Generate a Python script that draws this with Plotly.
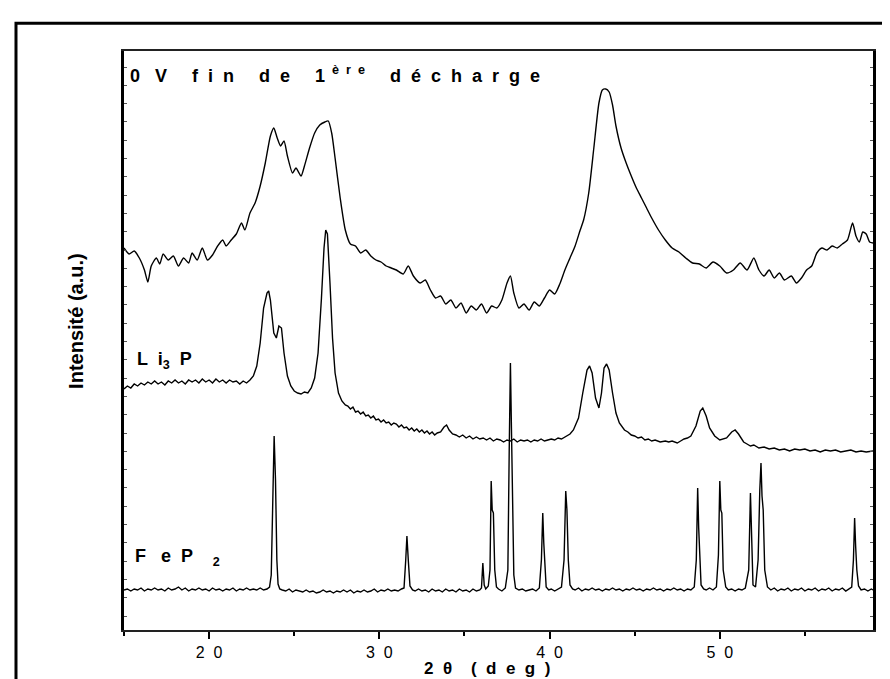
import plotly.graph_objects as go

# ---- Data (2theta in degrees, intensity in arbitrary units) ----
dis_2theta = [15.0, 15.3, 15.6, 15.9, 16.2, 16.4, 16.6, 16.9, 17.1, 17.3, 17.6, 17.9, 18.2, 18.5, 18.8, 19.0, 19.3, 19.6, 19.9,
              20.2, 20.5, 20.8, 21.0, 21.3, 21.6, 21.9, 22.1, 22.4, 22.7, 23.0, 23.3, 23.6, 23.8, 24.0, 24.2, 24.4, 24.6, 24.9,
              25.1, 25.4, 25.6, 25.9, 26.2, 26.5, 26.8, 27.0, 27.2, 27.4, 27.7, 28.0, 28.3, 28.6, 28.9, 29.2, 29.5, 29.8, 30.1,
              30.4, 30.7, 31.0, 31.4, 31.7, 32.0, 32.4, 32.7, 33.0, 33.3, 33.6, 33.9, 34.2, 34.5, 34.8, 35.1, 35.4, 35.7, 36.0,
              36.3, 36.6, 36.9, 37.2, 37.5, 37.7, 37.9, 38.2, 38.5, 38.8, 39.1, 39.4, 39.7, 40.0, 40.3, 40.6, 40.9, 41.2, 41.5,
              41.8, 42.0, 42.3, 42.6, 42.9, 43.1, 43.3, 43.5, 43.7, 43.9, 44.2, 44.5, 44.8, 45.1, 45.4, 45.7, 46.0, 46.4, 46.8,
              47.2, 47.6, 48.0, 48.4, 48.8, 49.2, 49.6, 50.0, 50.4, 50.8, 51.2, 51.6, 52.0, 52.3, 52.6, 52.9, 53.2, 53.5, 53.8,
              54.2, 54.5, 54.8, 55.1, 55.4, 55.7, 56.0, 56.3, 56.6, 56.9, 57.2, 57.5, 57.8, 58.0, 58.2, 58.4, 58.6, 58.8, 59.0]
dis_int = [382, 376, 379, 372, 360, 348, 364, 372, 366, 376, 370, 374, 364, 372, 367, 377, 370, 382, 370,
           375, 384, 390, 384, 390, 396, 407, 400, 417, 427, 444, 467, 494, 502, 492, 484, 489, 474, 457,
           462, 454, 464, 482, 497, 505, 508, 509, 497, 472, 432, 400, 386, 384, 377, 380, 374, 370, 368,
           364, 362, 360, 356, 364, 354, 347, 350, 340, 332, 334, 326, 330, 322, 327, 317, 324, 320, 326,
           317, 324, 322, 330, 347, 354, 337, 322, 326, 320, 328, 324, 332, 340, 336, 346, 360, 372, 384,
           400, 410, 437, 482, 527, 540, 541, 538, 525, 504, 482, 467, 454, 442, 432, 422, 412, 400, 390,
           382, 378, 372, 367, 366, 362, 368, 364, 357, 360, 367, 360, 372, 360, 354, 360, 352, 357, 350,
           354, 347, 352, 360, 364, 377, 382, 380, 384, 382, 386, 390, 407, 394, 388, 398, 396, 388, 387]

li3p_2theta = [15.0, 15.2, 15.4, 15.6, 15.8, 16.0, 16.2, 16.4, 16.6, 16.8, 17.0, 17.2, 17.4, 17.6, 17.8, 18.0, 18.2, 18.4,
               18.6, 18.8, 19.0, 19.2, 19.4, 19.6, 19.8, 20.0, 20.2, 20.4, 20.6, 20.8, 21.0, 21.2, 21.4, 21.6, 21.8, 22.0,
               22.2, 22.4, 22.6, 22.8, 23.0, 23.2, 23.4, 23.5, 23.6, 23.8, 23.95, 24.1, 24.25, 24.4, 24.6, 24.8, 25.0,
               25.2, 25.4, 25.6, 25.8, 26.0, 26.2, 26.4, 26.6, 26.75, 26.85, 26.95, 27.1, 27.25, 27.4, 27.6, 27.8, 28.0,
               28.15, 28.3, 28.45, 28.6, 28.75, 28.9, 29.05, 29.2, 29.35, 29.5, 29.65, 29.8, 29.95, 30.1, 30.25, 30.4,
               30.55, 30.7, 30.85, 31.0, 31.15, 31.3, 31.45, 31.6, 31.75, 31.9, 32.05, 32.2, 32.35, 32.5, 32.65, 32.8,
               32.95, 33.1, 33.25, 33.4, 33.6, 33.8, 33.95, 34.1, 34.3, 34.5, 34.7, 34.9, 35.1, 35.3, 35.5, 35.7, 35.9,
               36.1, 36.3, 36.5, 36.7, 36.9, 37.1, 37.3, 37.5, 37.7, 37.9, 38.1, 38.3, 38.5, 38.7, 38.9, 39.1, 39.3,
               39.5, 39.7, 39.9, 40.1, 40.3, 40.5, 40.7, 41.0, 41.2, 41.4, 41.7, 41.95, 42.2, 42.35, 42.5, 42.7, 42.9,
               43.05, 43.2, 43.35, 43.5, 43.7, 43.9, 44.1, 44.4, 44.6, 44.8, 45.0, 45.2, 45.4, 45.6, 45.8, 46.0, 46.2,
               46.5, 46.8, 47.0, 47.2, 47.5, 47.7, 47.9, 48.1, 48.3, 48.6, 48.85, 49.0, 49.2, 49.4, 49.7, 50.0, 50.2,
               50.4, 50.7, 50.9, 51.1, 51.4, 51.6, 51.8, 52.0, 52.3, 52.6, 52.9, 53.2, 53.5, 53.8, 54.1, 54.4, 54.7,
               55.0, 55.3, 55.6, 55.9, 56.2, 56.5, 56.8, 57.1, 57.4, 57.7, 58.0, 58.3, 58.6, 59.0]
li3p_int = [241, 244, 242, 246, 244, 247, 245, 248, 246, 249, 246, 248, 245, 249, 247, 250, 247, 249,
            246, 250, 248, 250, 247, 251, 248, 250, 247, 251, 248, 250, 247, 250, 248, 249, 246, 249,
            247, 250, 254, 264, 287, 322, 337, 339, 330, 297, 292, 304, 302, 277, 254, 244, 239,
            237, 236, 238, 237, 242, 252, 277, 332, 382, 400, 396, 347, 292, 257, 237, 229, 225,
            224, 221, 223, 218, 219, 216, 218, 214, 215, 212, 214, 210, 211, 208, 210, 207,
            208, 205, 207, 206, 203, 205, 202, 203, 200, 202, 199, 201, 198, 200, 197, 199,
            196, 198, 195, 197, 198, 203, 205, 200, 196, 195, 193, 195, 192, 194, 191, 193, 191,
            192, 190, 192, 189, 191, 190, 188, 190, 189, 191, 188, 190, 189, 190, 188, 190, 189,
            191, 189, 190, 191, 190, 192, 191, 194, 196, 200, 212, 237, 260, 264, 257, 232, 222,
            237, 262, 266, 260, 237, 217, 207, 200, 198, 195, 194, 192, 193, 190, 191, 189, 190,
            188, 189, 188, 189, 187, 189, 191, 192, 194, 204, 219, 222, 214, 202, 194, 190, 191,
            192, 198, 200, 196, 188, 186, 184, 185, 182, 183, 181, 182, 180, 181, 179, 181, 180,
            181, 179, 180, 178, 180, 179, 180, 178, 179, 180, 178, 179, 178, 179]

fep2_2theta = [15.0, 15.2, 15.4, 15.6, 15.8, 16.0, 16.2, 16.4, 16.6, 16.8, 17.0, 17.2, 17.4, 17.6, 17.8, 18.0, 18.2, 18.4,
               18.6, 18.8, 19.0, 19.2, 19.4, 19.6, 19.8, 20.0, 20.2, 20.4, 20.6, 20.8, 21.0, 21.2, 21.4, 21.6, 21.8, 22.0,
               22.2, 22.4, 22.6, 22.8, 23.0, 23.2, 23.4, 23.55, 23.65, 23.75, 23.82, 23.9, 23.98, 24.05, 24.15, 24.3, 24.5,
               24.7, 24.9, 25.1, 25.3, 25.5, 25.7, 25.9, 26.1, 26.3, 26.5, 26.7, 26.9, 27.1, 27.3, 27.5, 27.7, 27.9, 28.1,
               28.3, 28.5, 28.7, 28.9, 29.1, 29.3, 29.5, 29.7, 29.9, 30.1, 30.3, 30.5, 30.7, 30.9, 31.1, 31.3, 31.45, 31.55,
               31.62, 31.7, 31.8, 31.95, 32.1, 32.3, 32.5, 32.7, 32.9, 33.1, 33.3, 33.5, 33.7, 33.9, 34.1, 34.3, 34.5, 34.7,
               34.9, 35.1, 35.3, 35.5, 35.7, 35.9, 36.0, 36.08, 36.16, 36.25, 36.4, 36.5, 36.57, 36.63, 36.7, 36.78, 36.88,
               37.0, 37.2, 37.4, 37.55, 37.63, 37.7, 37.76, 37.82, 37.9, 38.0, 38.2, 38.4, 38.6, 38.8, 39.0, 39.2, 39.4,
               39.52, 39.6, 39.66, 39.72, 39.8, 39.95, 40.1, 40.3, 40.5, 40.7, 40.85, 40.95, 41.02, 41.1, 41.2, 41.35,
               41.5, 41.7, 41.9, 42.1, 42.3, 42.5, 42.7, 42.9, 43.1, 43.3, 43.5, 43.7, 43.9, 44.1, 44.3, 44.5, 44.7,
               44.9, 45.1, 45.3, 45.5, 45.7, 45.9, 46.1, 46.3, 46.5, 46.7, 46.9, 47.1, 47.3, 47.5, 47.7, 47.9, 48.1,
               48.3, 48.5, 48.62, 48.7, 48.76, 48.82, 48.9, 49.05, 49.2, 49.4, 49.6, 49.8, 49.92, 50.0, 50.06, 50.12,
               50.2, 50.35, 50.5, 50.7, 50.9, 51.1, 51.3, 51.5, 51.7, 51.8, 51.86, 51.95, 52.1, 52.25, 52.35, 52.42,
               52.48, 52.55, 52.64, 52.8, 53.0, 53.2, 53.4, 53.6, 53.8, 54.0, 54.2, 54.4, 54.6, 54.8, 55.0, 55.2, 55.4,
               55.6, 55.8, 56.0, 56.2, 56.4, 56.6, 56.8, 57.0, 57.2, 57.4, 57.6, 57.75, 57.85, 57.92, 57.98, 58.05,
               58.15, 58.3, 58.5, 58.7, 58.9, 59.0]
fep2_int = [40, 41, 39, 41, 40, 42, 39, 41, 40, 42, 40, 41, 39, 42, 40, 41, 43, 40,
            42, 39, 41, 40, 42, 40, 41, 39, 42, 40, 41, 39, 41, 40, 42, 39, 41, 40,
            42, 40, 41, 40, 42, 40, 41, 43, 55, 120, 194, 150, 70, 46, 41, 40, 39,
            41, 38, 40, 39, 38, 40, 38, 39, 37, 38, 40, 38, 39, 37, 39, 38, 40, 38,
            40, 37, 39, 38, 40, 38, 39, 41, 38, 40, 39, 41, 39, 40, 39, 41, 42, 70,
            94, 70, 44, 40, 39, 41, 39, 40, 38, 41, 39, 40, 38, 41, 39, 40, 38, 41,
            39, 40, 38, 41, 39, 40, 42, 67, 45, 41, 44, 60, 149, 120, 117, 60, 43,
            41, 39, 42, 60, 180, 267, 202, 130, 55, 42, 40, 41, 39, 40, 41, 39, 42,
            70, 117, 87, 60, 43, 40, 41, 39, 41, 43, 70, 139, 120, 70, 45, 41,
            40, 42, 39, 41, 40, 42, 40, 41, 39, 41, 40, 42, 40, 41, 39, 41, 40,
            42, 40, 41, 39, 41, 40, 42, 40, 41, 39, 41, 40, 42, 40, 41, 39, 41,
            40, 43, 70, 142, 102, 75, 45, 41, 40, 42, 40, 43, 75, 149, 120, 117,
            60, 43, 40, 41, 39, 41, 40, 42, 60, 137, 90, 45, 43, 70, 140, 167,
            134, 120, 60, 43, 40, 42, 39, 41, 40, 42, 39, 41, 40, 42, 39, 41, 40,
            42, 39, 41, 40, 42, 39, 41, 40, 42, 39, 41, 43, 70, 112, 84, 60,
            44, 40, 41, 39, 41, 40]

x_tickvals = [20, 30, 40, 50]
x_ticktext = ["2  0", "3  0", "4  0", "5  0"]

FONT = "Liberation Sans, Arial, sans-serif"

fig = go.Figure()
line_style = dict(color="black", width=1.4)
fig.add_trace(go.Scatter(x=dis_2theta, y=dis_int, mode="lines",
                         line=dict(color="black", width=1.4, shape="spline", smoothing=0.6)))
fig.add_trace(go.Scatter(x=li3p_2theta, y=li3p_int, mode="lines", line=line_style))
fig.add_trace(go.Scatter(x=fep2_2theta, y=fep2_int, mode="lines", line=line_style))

fig.update_layout(
    width=890, height=679,
    margin=dict(l=116, r=25, t=43, b=57),
    paper_bgcolor="white", plot_bgcolor="white",
    showlegend=False,
    font=dict(family=FONT, color="black"),
)
fig.update_xaxes(
    range=[15, 59], showgrid=False, zeroline=False,
    showline=True, linecolor="#222", linewidth=2, mirror=True,
    tickmode="array", tickvals=x_tickvals, ticktext=x_ticktext,
    ticks="outside", ticklen=7, tickwidth=2, tickcolor="black",
    tickfont=dict(family=FONT, size=16, color="black"),
    minor=dict(tickmode="array", tickvals=[15, 25, 35, 45, 55], ticks="outside", ticklen=4, tickwidth=2, tickcolor="black"),
)
fig.update_yaxes(
    range=[0, 579], showgrid=False, zeroline=False,
    showline=True, linecolor="black", linewidth=3, mirror="ticks",
    ticks="inside", tick0=14, dtick=18.3, ticklen=3, tickwidth=1, tickcolor="#555",
    showticklabels=False,
)

annotations = [
    dict(text="<b>Intensité (a.u.)</b>", xref="paper", yref="paper", x=-0.064, y=0.534,
         textangle=-90, showarrow=False, font=dict(family=FONT, size=20, color="black"),
         xanchor="center", yanchor="middle"),
    dict(text="<b>2  θ    (  d  e  g  )</b>", xref="paper", yref="paper", x=0.485, y=-0.0665,
         showarrow=False, font=dict(family=FONT, size=17, color="black"),
         xanchor="center", yanchor="middle", borderpad=0),
    dict(text="<b>0   V     f  i  n     d  e     1<sup>  è  r  e</sup>     d  é  c  h  a  r  g  e</b>",
         xref="x", yref="y", x=15.22, y=556, showarrow=False, xanchor="left", yanchor="middle",
         font=dict(family=FONT, size=18, color="black")),
    dict(text="<b>L  i<sub>3</sub>  P</b>", xref="x", yref="y", x=15.65, y=270, showarrow=False,
         xanchor="left", yanchor="middle", font=dict(family=FONT, size=18, color="black")),
    dict(text="<b>F   e  P    <sub>2</sub></b>", xref="x", yref="y", x=15.5, y=73, showarrow=False,
         xanchor="left", yanchor="middle", font=dict(family=FONT, size=18, color="black")),
]
fig.update_layout(annotations=annotations)

# outer frame
fig.add_shape(type="rect", xref="paper", yref="paper", x0=-0.1442, x1=1.05, y0=-0.2, y1=1.048,
              line=dict(color="black", width=3), fillcolor="rgba(0,0,0,0)", layer="above")

fig.write_html("out.html")
